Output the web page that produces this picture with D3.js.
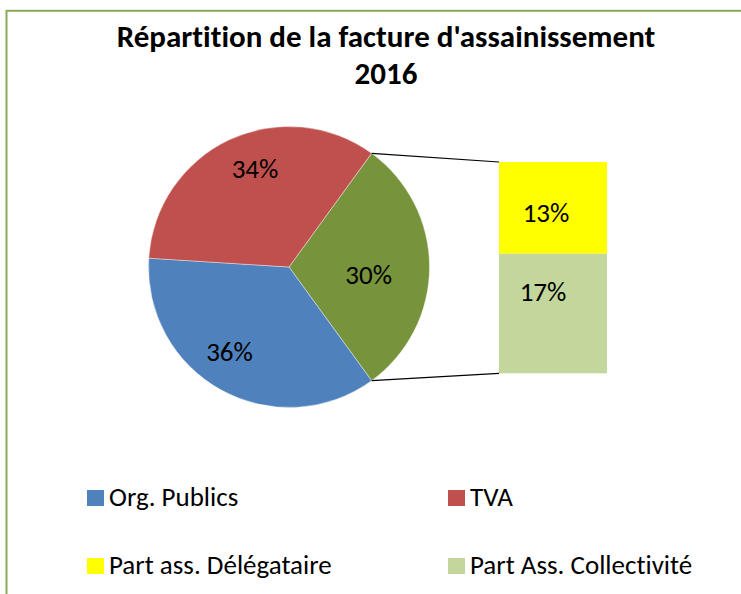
<!DOCTYPE html>
<html>
<head>
<meta charset="utf-8">
<script src="https://cdn.jsdelivr.net/npm/d3@7"></script>
<style>
  html, body { margin: 0; padding: 0; background: #ffffff; }
  svg { display: block; }
  text { font-family: Carlito, Calibri, Lato, "Open Sans", sans-serif; fill: #000; font-variant-ligatures: none; }
</style>
</head>
<body>
<svg id="chart" width="741" height="594"></svg>
<script>
// Main pie: the "Part Ass." slice groups the two parts detailed in the bar.
const pieCategories = ["Part Ass.", "Org. Publics", "TVA"];
const pieValues = [30, 36, 34];
const pieColors = ["#77933C", "#4F81BD", "#C0504D"];

// Breakdown bar (bottom to top).
const barCategories = ["Part Ass. Collectivité", "Part ass. Délégataire"];
const barValues = [17, 13];
const barColors = ["#C3D69B", "#FFFF00"];

// Legend entries, in reading order.
const legendLabels = ["Org. Publics", "TVA", "Part ass. Délégataire", "Part Ass. Collectivité"];
const legendColors = ["#4F81BD", "#C0504D", "#FFFF00", "#C3D69B"];

const titleLines = ["Répartition de la facture d'assainissement", "2016"];

const svg = d3.select("#chart");

// Chart area frame (continues past the right and bottom edges).
svg.append("rect")
  .attr("x", 6.5).attr("y", 10.8)
  .attr("width", 800).attr("height", 700)
  .attr("fill", "#fff")
  .attr("stroke", "#8AAB55")
  .attr("stroke-width", 2);

// Title
svg.append("g").selectAll("text")
  .data(titleLines)
  .join("text")
  .attr("x", 386)
  .attr("y", (d, i) => 47 + i * 37)
  .attr("text-anchor", "middle")
  .attr("font-size", 31)
  .attr("font-weight", "bold")
  .text(d => d);

// Pie
const cx = 289, cy = 267, r = 140.5;
const total = d3.sum(pieValues);
const groupAngle = pieValues[0] / total * 2 * Math.PI;
const pie = d3.pie().sort(null).value(d => d)
  .startAngle(Math.PI / 2 - groupAngle / 2)
  .endAngle(Math.PI / 2 - groupAngle / 2 + 2 * Math.PI);
const arcs = pie(pieValues);
const arc = d3.arc().innerRadius(0).outerRadius(r);

const pg = svg.append("g").attr("transform", `translate(${cx},${cy})`);
pg.selectAll("path")
  .data(arcs)
  .join("path")
  .attr("d", arc)
  .attr("fill", (d, i) => pieColors[i])
  .attr("stroke", "#fff")
  .attr("stroke-width", 0.4);

// Pie data labels
const labelRadius = [80, 103, 104];
pg.selectAll("text")
  .data(arcs)
  .join("text")
  .attr("transform", (d, i) => {
    const a = d.startAngle + (d.endAngle - d.startAngle) * 0.55;
    const lr = labelRadius[i];
    return `translate(${lr * Math.sin(a)},${-lr * Math.cos(a)})`;
  })
  .attr("text-anchor", "middle")
  .attr("dy", "0.35em")
  .attr("font-size", 27)
  .text(d => Math.round(d.data / total * 100) + "%");

// Breakdown bar
const barX = 499, barW = 108;
const y = d3.scaleLinear().domain([0, pieValues[0]]).range([373.3, 162]);
const stacked = [];
let acc = 0;
barValues.forEach((v, i) => { stacked.push({ v, i, y0: acc, y1: acc + v }); acc += v; });

const bg = svg.append("g");
bg.selectAll("rect")
  .data(stacked)
  .join("rect")
  .attr("x", barX)
  .attr("width", barW)
  .attr("y", d => y(d.y1))
  .attr("height", d => y(d.y0) - y(d.y1))
  .attr("fill", d => barColors[d.i]);

bg.selectAll("text")
  .data(stacked)
  .join("text")
  .attr("x", (d) => barX + barW / 2 - (d.i === 0 ? 10 : 7))
  .attr("y", d => y(d.i === 0 ? d.y0 + d.v * 0.68 : d.y0 + d.v * 0.45))
  .attr("dy", "0.35em")
  .attr("text-anchor", "middle")
  .attr("font-size", 27)
  .text(d => Math.round(d.v / total * 100) + "%");

// Connector lines from the grouped slice to the bar
const g0 = arcs[0];
const pt = a => [cx + r * Math.sin(a), cy - r * Math.cos(a)];
const [sx, sy] = pt(g0.startAngle);
const [ex, ey] = pt(g0.endAngle);
svg.append("line")
  .attr("x1", sx).attr("y1", sy).attr("x2", barX).attr("y2", y(pieValues[0]))
  .attr("stroke", "#000").attr("stroke-width", 1.2);
svg.append("line")
  .attr("x1", ex).attr("y1", ey).attr("x2", barX).attr("y2", y(0))
  .attr("stroke", "#000").attr("stroke-width", 1.2);

// Legend
const lg = svg.append("g");
const legendItems = lg.selectAll("g")
  .data(legendLabels)
  .join("g")
  .attr("transform", (d, i) => `translate(${i % 2 === 0 ? 87 : 448},${490 + Math.floor(i / 2) * 68})`);
legendItems.append("rect")
  .attr("width", 17).attr("height", 16)
  .attr("fill", (d, i) => legendColors[i]);
legendItems.append("text")
  .attr("x", 22)
  .attr("y", 16)
  .attr("font-size", 27)
  .text(d => d);
</script>
</body>
</html>
